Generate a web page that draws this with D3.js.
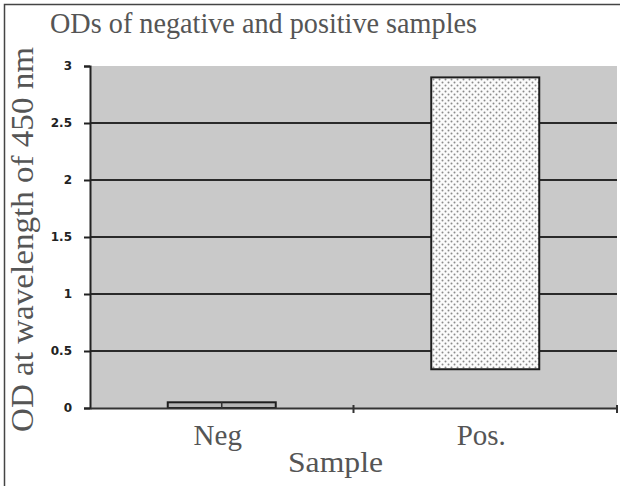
<!DOCTYPE html>
<html>
<head>
<meta charset="utf-8">
<script src="https://cdn.jsdelivr.net/npm/d3@7"></script>
<style>
  body { margin: 0; background: #fff; }
  svg { display: block; }
</style>
</head>
<body>
<div id="chart"></div>
<script>
// data
var categories = ["Neg", "Pos."];
var barLow = [0, 0.34];
var barHigh = [0.05, 2.9];
var yTicks = [0, 0.5, 1, 1.5, 2, 2.5, 3];
var yTickLabels = ["0", "0.5", "1", "1.5", "2", "2.5", "3"];

var width = 620, height = 486;
var margin = { top: 66, right: 3, bottom: 78, left: 90 };
var serif = "'Liberation Serif'";

var svg = d3.select("#chart").append("svg")
  .attr("width", width).attr("height", height);

// pattern for dotted bar fill
var defs = svg.append("defs");
var pat = defs.append("pattern")
  .attr("id", "dots")
  .attr("width", 6).attr("height", 6)
  .attr("patternUnits", "userSpaceOnUse");
pat.append("rect").attr("width", 6).attr("height", 6).attr("fill", "#fbfbfb");
pat.append("circle").attr("cx", 1.5).attr("cy", 1.5).attr("r", 1).attr("fill", "#8a8a8a");
pat.append("circle").attr("cx", 4.5).attr("cy", 4.5).attr("r", 1).attr("fill", "#8a8a8a");

// outer frame
svg.append("rect")
  .attr("x", 4.5).attr("y", 4.5)
  .attr("width", width + 10).attr("height", height + 10)
  .attr("fill", "none").attr("stroke", "#444").attr("stroke-width", 1.5);

var x = d3.scaleBand()
  .domain(categories)
  .range([margin.left, width - margin.right])
  .paddingInner(0)
  .paddingOuter(0);

var y = d3.scaleLinear()
  .domain([0, 3])
  .range([height - margin.bottom, margin.top]);

// plot area
svg.append("rect")
  .attr("x", margin.left).attr("y", margin.top)
  .attr("width", width - margin.left - margin.right)
  .attr("height", height - margin.top - margin.bottom)
  .attr("fill", "#c9c9c9");

// gridlines
svg.append("g")
  .selectAll("line")
  .data(yTicks.filter(function(d) { return d > 0 && d < 3; }))
  .enter()
  .append("line")
  .attr("x1", margin.left).attr("x2", width - margin.right)
  .attr("y1", function(d) { return y(d); })
  .attr("y2", function(d) { return y(d); })
  .attr("stroke", "#2a2a2a").attr("stroke-width", 2);

// bars
var barW = 108;
svg.append("g")
  .selectAll("rect")
  .data(categories)
  .enter()
  .append("rect")
  .attr("x", function(d) { return x(d) + x.bandwidth() / 2 - barW / 2; })
  .attr("width", barW)
  .attr("y", function(d, i) { return y(barHigh[i]); })
  .attr("height", function(d, i) { return y(barLow[i]) - y(barHigh[i]); })
  .attr("fill", function(d, i) { return i === 0 ? "#b5b5b5" : "url(#dots)"; })
  .attr("stroke", "#1e1e1e").attr("stroke-width", 2);

// divider in the small bar
svg.append("line")
  .attr("x1", x(categories[0]) + x.bandwidth() / 2)
  .attr("x2", x(categories[0]) + x.bandwidth() / 2)
  .attr("y1", y(barHigh[0])).attr("y2", y(barLow[0]))
  .attr("stroke", "#333").attr("stroke-width", 1.5);

// y axis
var axisY = d3.axisLeft(y)
  .tickValues(yTicks)
  .tickFormat(function(d, i) { return yTickLabels[i]; })
  .tickSize(6)
  .tickPadding(12);

var gy = svg.append("g")
  .attr("transform", "translate(" + margin.left + ",0)")
  .call(axisY);
gy.select(".domain").attr("stroke", "#222").attr("stroke-width", 2);
gy.selectAll(".tick line").attr("stroke", "#222").attr("stroke-width", 2);
gy.selectAll(".tick text")
  .style("font-family", "'DejaVu Sans'")
  .style("font-size", "12px")
  .style("font-weight", "bold")
  .attr("fill", "#222");

// x axis
var axisX = d3.axisBottom(x).tickSize(0).tickPadding(16);
var gx = svg.append("g")
  .attr("transform", "translate(0," + y(0) + ")")
  .call(axisX);
gx.select(".domain").attr("stroke", "#333").attr("stroke-width", 2);
gx.selectAll(".tick text")
  .attr("dx", -4)
  .style("font-family", serif)
  .style("font-size", "29px")
  .attr("fill", "#555");

// category boundary ticks
gx.append("g")
  .selectAll("line")
  .data(categories)
  .enter()
  .append("line")
  .attr("x1", function(d) { return x(d) + x.bandwidth(); })
  .attr("x2", function(d) { return x(d) + x.bandwidth(); })
  .attr("y1", -3).attr("y2", 5)
  .attr("stroke", "#333").attr("stroke-width", 2);

// title
svg.append("text")
  .attr("x", 50).attr("y", 33)
  .attr("textLength", 427)
  .attr("lengthAdjust", "spacingAndGlyphs")
  .style("font-family", serif)
  .style("font-size", "29px")
  .attr("fill", "#555")
  .text("ODs of negative and positive samples");

// x label
svg.append("text")
  .attr("x", 288).attr("y", 472)
  .attr("textLength", 95)
  .attr("lengthAdjust", "spacingAndGlyphs")
  .style("font-family", serif)
  .style("font-size", "29px")
  .attr("fill", "#555")
  .text("Sample");

// y label
svg.append("text")
  .attr("transform", "translate(33,432) rotate(-90)")
  .attr("textLength", 385)
  .attr("lengthAdjust", "spacingAndGlyphs")
  .style("font-family", serif)
  .style("font-size", "31px")
  .attr("fill", "#555")
  .text("OD at wavelength of 450 nm");
</script>
</body>
</html>
